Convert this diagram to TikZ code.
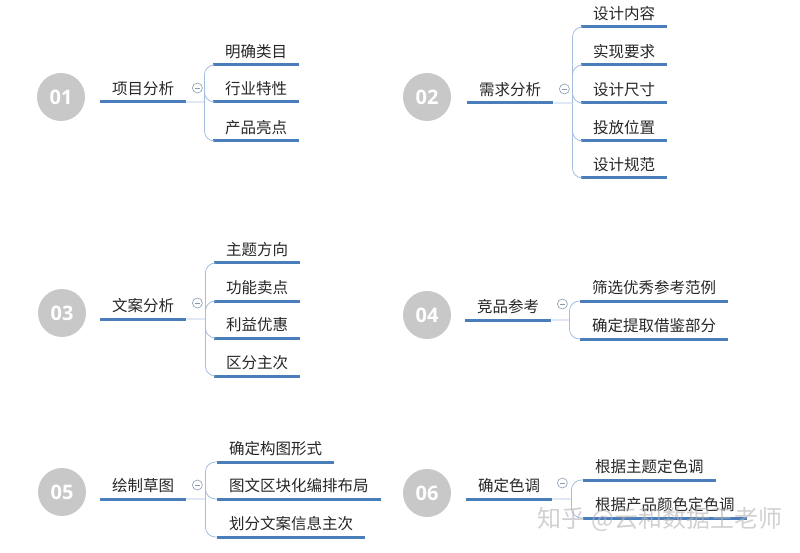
\documentclass[tikz,border=0pt]{standalone}
\usepackage{fontspec}
\setmainfont{Noto Sans CJK SC}
\newfontfamily\zahlfont{Open Sans}
\definecolor{kreisgrau}{HTML}{C8C8C8}
\definecolor{linienblau}{HTML}{4A7EBB}
\definecolor{astblau}{HTML}{A4BEDF}
\definecolor{minusgrau}{HTML}{8A9BB0}
\definecolor{schrift}{HTML}{262626}
\tikzset{
  nummer/.style={circle, fill=kreisgrau, minimum size=48pt, inner sep=0pt, text=white,
    font=\zahlfont\bfseries\fontsize{20}{20}\selectfont},
  linie/.style={draw=linienblau, line width=3pt},
  titel/.style={anchor=south west, inner xsep=12pt, inner ysep=7.5pt, text depth=0pt, text=schrift,
    font=\fontsize{15.5}{18}\selectfont,
    append after command={(\tikzlastnode.south west) edge[linie] (\tikzlastnode.south east)}},
  ast/.style={draw=astblau, line width=0.8pt, rounded corners=10pt},
  minus/.style={circle, draw=minusgrau, line width=0.6pt, minimum size=10pt, inner sep=0pt,
    path picture={\draw[minusgrau, line width=0.6pt] ([xshift=2.5pt]path picture bounding box.west) -- ([xshift=-2.5pt]path picture bounding box.east);}},
  wasserzeichen/.style={text=gray!60, opacity=0.6, font=\fontsize{24}{24}\selectfont}
}
\begin{document}
\begin{tikzpicture}[x=1pt, y=-1pt]
\useasboundingbox (0,0) rectangle (800,553);
% Gruppe 01
\node[nummer] (n1) at (61,97) {01};
\node[titel] (h1) at (100,102) {项目分析};
\node[titel] (k11) at (213,65) {明确类目};
\node[titel] (k12) at (213,102) {行业特性};
\node[titel] (k13) at (213,141) {产品亮点};
\path (h1.south east) ++(11,-14) node[minus] (m1) {} (h1.south east) ++(18,0) coordinate (v1);
\draw[ast] (h1.south east) -- (v1) (v1) |- (k11.south west) (v1) |- (k12.south west) (v1) |- (k13.south west);
% Gruppe 02
\node[nummer] (n2) at (427,97) {02};
\node[titel] (h2) at (467,103) {需求分析};
\node[titel] (k21) at (581,27) {设计内容};
\node[titel] (k22) at (581,65) {实现要求};
\node[titel] (k23) at (581,103) {设计尺寸};
\node[titel] (k24) at (581,141) {投放位置};
\node[titel] (k25) at (581,178) {设计规范};
\path (h2.south east) ++(11,-14) node[minus] (m2) {} (h2.south east) ++(19,0) coordinate (v2);
\draw[ast] (h2.south east) -- (v2) (v2) |- (k21.south west) (v2) |- (k22.south west) (v2) |- (k23.south west)
  (v2) |- (k24.south west) (v2) |- (k25.south west);
% Gruppe 03
\node[nummer] (n3) at (62,313) {03};
\node[titel] (h3) at (100,319) {文案分析};
\node[titel] (k31) at (214,263) {主题方向};
\node[titel] (k32) at (214,301) {功能卖点};
\node[titel] (k33) at (214,338) {利益优惠};
\node[titel] (k34) at (214,376) {区分主次};
\path (h3.south east) ++(11,-16) node[minus] (m3) {} (h3.south east) ++(19,0) coordinate (v3);
\draw[ast] (h3.south east) -- (v3) (v3) |- (k31.south west) (v3) |- (k32.south west) (v3) |- (k33.south west)
  (v3) |- (k34.south west);
% Gruppe 04
\node[nummer] (n4) at (427,315) {04};
\node[titel] (h4) at (465,320) {竞品参考};
\node[titel] (k41) at (580,301) {筛选优秀参考范例};
\node[titel] (k42) at (580,339) {确定提取借鉴部分};
\path (h4.south east) ++(11,-16) node[minus] (m4) {} (h4.south east) ++(18,0) coordinate (v4);
\draw[ast] (h4.south east) -- (v4) (v4) |- (k41.south west) (v4) |- (k42.south west);
% Gruppe 05
\node[nummer] (n5) at (62,492) {05};
\node[titel] (h5) at (100,499) {绘制草图};
\node[titel] (k51) at (217,462) {确定构图形式};
\node[titel] (k52) at (217,499) {图文区块化编排布局};
\node[titel] (k53) at (217,537) {划分文案信息主次};
\path (h5.south east) ++(11,-14) node[minus] (m5) {} (h5.south east) ++(19,0) coordinate (v5);
\draw[ast] (h5.south east) -- (v5) (v5) |- (k51.south west) (v5) |- (k52.south west) (v5) |- (k53.south west);
% Gruppe 06
\node[nummer] (n6) at (427,493) {06};
\node[titel] (h6) at (466,499) {确定色调};
\node[titel] (k61) at (583,480) {根据主题定色调};
\node[titel] (k62) at (583,518) {根据产品颜色定色调};
\path (h6.south east) ++(10,-16) node[minus] (m6) {} (h6.south east) ++(19,0) coordinate (v6);
\draw[ast] (h6.south east) -- (v6) (v6) |- (k61.south west) (v6) |- (k62.south west);
% Wasserzeichen
\node[wasserzeichen] (wz) at (660,519) {知乎 @云和数据王老师};
\end{tikzpicture}
\end{document}
